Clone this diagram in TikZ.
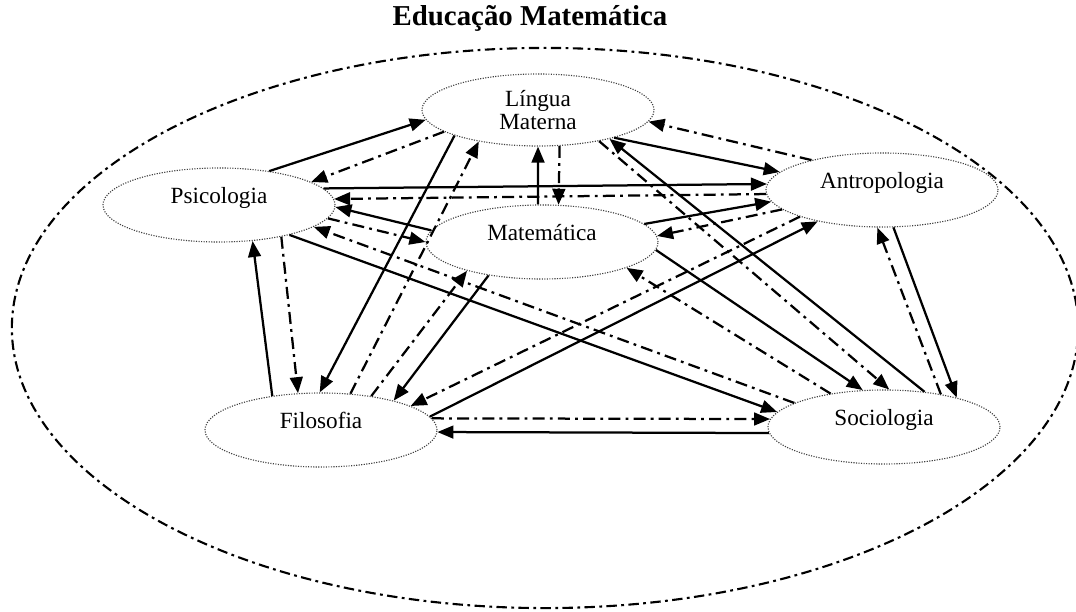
\documentclass[tikz,border=0pt]{standalone}
\usepackage{fontspec}
\setmainfont{Liberation Serif}
\usetikzlibrary{shapes.geometric, arrows.meta}
\tikzset{
    field/.style = {ellipse, draw = black!75, densely dotted, line width = 0.8pt, minimum width = 5.8cm, minimum height = 1.85cm, inner sep = 0pt, align = center, font = \fontsize{16.5}{16}\selectfont},
    flat/.style = {text height = 0.4cm, text depth = 0.5cm},
    heading/.style = {font = \fontsize{20.5}{22}\selectfont\bfseries},
    rel/.style = {line width = 1.6pt, -{Triangle[length = 4mm, width = 3.2mm]}},
    back/.style = {rel, dash pattern = on 3mm off 1.3mm on 0.7mm off 1.3mm},
    frame/.style = {line width = 1.5pt, dash pattern = on 2.6mm off 1.1mm on 0.7mm off 1.1mm}
}

\begin{document}
\begin{tikzpicture}[x = 0.025cm, y = -0.025cm]
    \useasboundingbox (0,0) rectangle (1076,611);
    \node [heading] (title) at (530,18) {Educação Matemática};
    \draw [frame] (545,328) ellipse [x radius = 13.325cm, y radius = 7cm];

    \node [field, minimum height = 1.8cm] (lin) at (538,110) {Língua\\Materna};
    \node [field, flat] (psi) at (219,205) {Psicologia};
    \node [field, flat] (ant) at (882,190) {Antropologia};
    \node [field, flat] (mat) at (542,242) {Matemática};
    \node [field, flat] (fil) at (321,430) {Filosofia};
    \node [field, flat] (soc) at (884,427) {Sociologia};

    \draw [rel] (psi.34) -- (lin.185);
    \draw [back] (lin.193) -- (psi.14);
    \draw [rel] (psi.9) -- (ant.177);
    \draw [back] (ant.182) -- (psi.3);
    \draw [rel] (mat.174) -- (psi.359);
    \draw [back] (psi.353) -- (mat.180);
    \draw [rel] (fil.145) -- (psi.313);
    \draw [back] (psi.333) -- (fil.122);
    \draw [rel] (psi.337) -- (soc.172);
    \draw [back] (soc.165) -- (psi.347);
    \draw [rel] (mat.96) -- (lin.270);
    \draw [back] (lin.301) -- (mat.66);
    \draw [rel] (lin.340) -- (ant.170);
    \draw [back] (ant.157) -- (lin.354);
    \draw [rel] (lin.197) -- (fil.92);
    \draw [back] (fil.51) -- (lin.208);
    \draw [rel] (soc.41) -- (lin.338);
    \draw [back] (lin.333) -- (soc.82);
    \draw [rel] (mat.10) -- (ant.186);
    \draw [back] (ant.191) -- (mat.3);
    \draw [rel] (mat.212) -- (fil.22);
    \draw [back] (fil.34) -- (mat.201);
    \draw [rel] (mat.356) -- (soc.120);
    \draw [back] (soc.148) -- (mat.343);
    \draw [rel] (fil.7) -- (ant.206);
    \draw [back] (ant.198) -- (fil.15);
    \draw [rel] (ant.287) -- (soc.22);
    \draw [back] (soc.30) -- (ant.263);
    \draw [rel] (soc.183) -- (fil.359);
    \draw [back] (fil.6) -- (soc.176);
\end{tikzpicture}
\end{document}
